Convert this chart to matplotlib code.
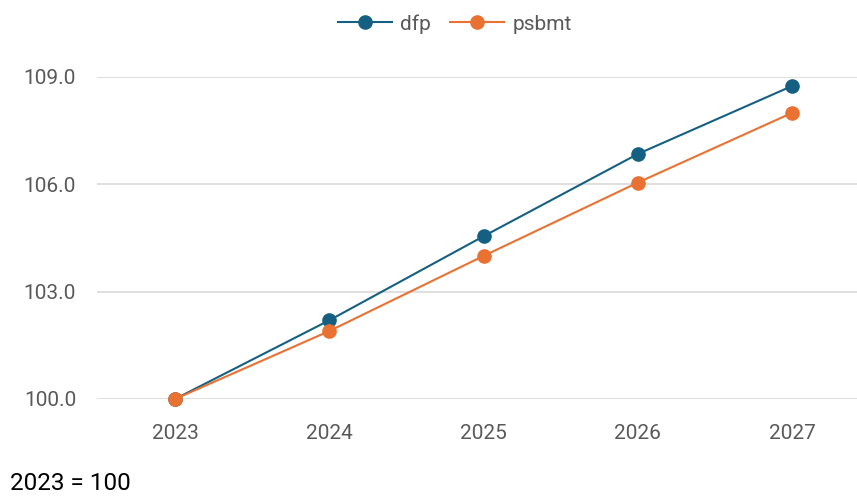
import matplotlib
matplotlib.use("Agg")
import matplotlib.pyplot as plt

years = ["2023", "2024", "2025", "2026", "2027"]
dfp = [100.0, 102.2, 104.55, 106.85, 108.75]
psbmt = [100.0, 101.9, 104.0, 106.05, 108.0]
yticks = [100.0, 103.0, 106.0, 109.0]

plt.rcParams["font.family"] = ["Roboto", "DejaVu Sans"]
grey = "#595959"

fig = plt.figure(figsize=(8.57, 4.96), dpi=100)
ax = fig.add_axes([97 / 857, 97 / 496, 760 / 857, 322 / 496])

x = list(range(len(years)))
ax.plot(x, dfp, color="#156082", lw=1.5, marker="o", ms=9.5, label="dfp", clip_on=False, zorder=3)
ax.plot(x, psbmt, color="#E97132", lw=1.5, marker="o", ms=9.5, label="psbmt", clip_on=False, zorder=3)

ax.set_xlim(-0.506, 4.42)
ax.set_ylim(100, 109)
ax.set_yticks(yticks)
ax.set_yticklabels([f"{v:.1f}" for v in yticks])
ax.set_xticks(x)
ax.set_xticklabels(years)
ax.tick_params(axis="both", length=0, labelsize=15, colors=grey)
ax.tick_params(axis="y", pad=15)
ax.tick_params(axis="x", pad=18)
ax.grid(axis="y", color="#D9D9D9", lw=1.2)
ax.set_axisbelow(True)
for s in ax.spines.values():
    s.set_visible(False)

leg = fig.legend(loc="center", bbox_to_anchor=(455 / 857, 1 - 24 / 496), ncol=2, frameon=False,
                 fontsize=15, handlelength=2.6, columnspacing=0.9, handletextpad=0.4)
for t in leg.get_texts():
    t.set_color(grey)

fig.text(10 / 857, 1 - 484 / 496, "2023 = 100", fontsize=17.5, color="black", va="center", ha="left")

fig.savefig("out.png", dpi=100)
